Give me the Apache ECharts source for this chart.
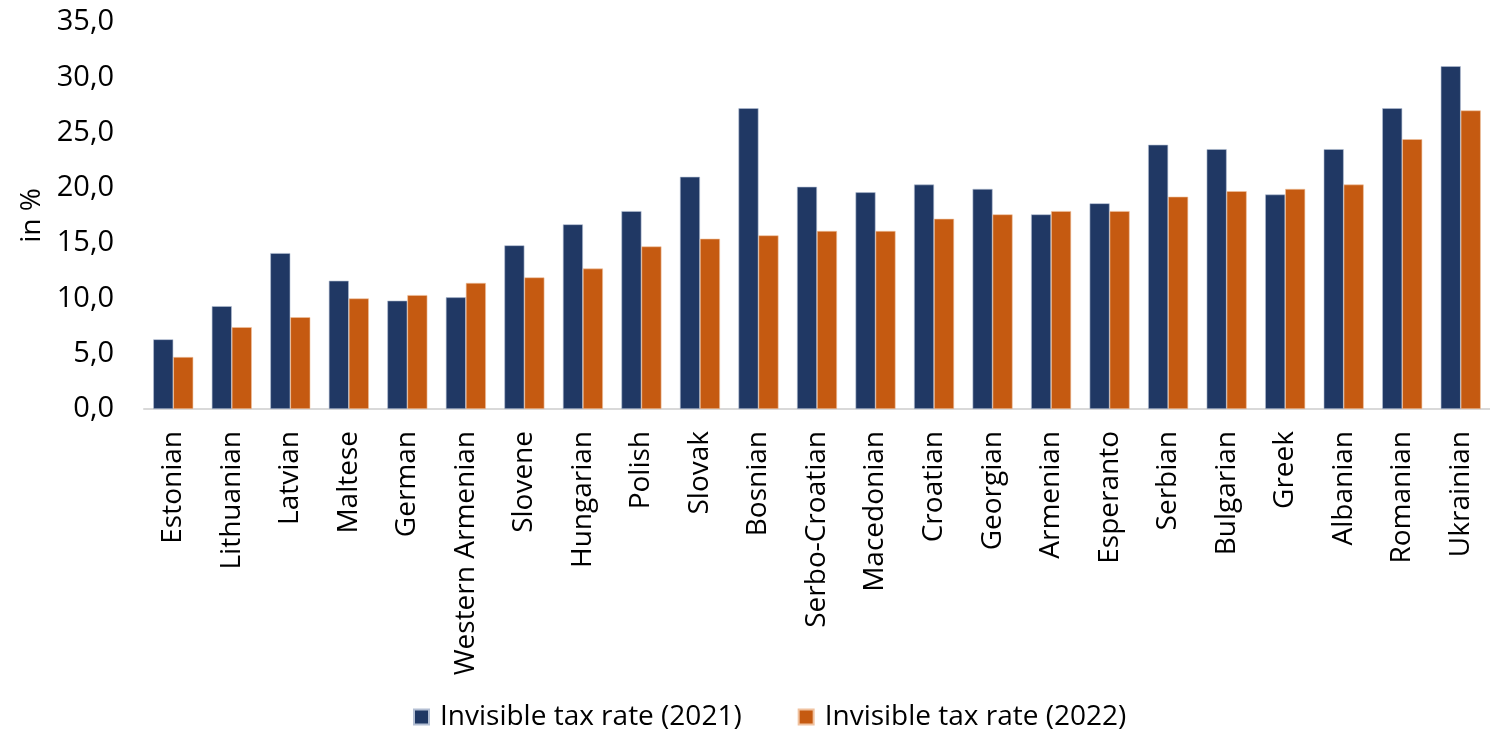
<!DOCTYPE html>
<html>
<head>
<meta charset="utf-8">
<script src="https://cdn.jsdelivr.net/npm/echarts@6/dist/echarts.min.js"></script>
<style>
  html, body { margin: 0; padding: 0; background: #fff; }
  #chart { width: 1490px; height: 736px; }
</style>
</head>
<body>
<div id="chart"></div>
<script>
// languages on the x axis
const languages = [
  'Estonian', 'Lithuanian', 'Latvian', 'Maltese', 'German', 'Western Armenian',
  'Slovene', 'Hungarian', 'Polish', 'Slovak', 'Bosnian', 'Serbo-Croatian',
  'Macedonian', 'Croatian', 'Georgian', 'Armenian', 'Esperanto', 'Serbian',
  'Bulgarian', 'Greek', 'Albanian', 'Romanian', 'Ukrainian'
]

// invisible tax rate, in %
const rate2021 = [6.3, 9.3, 14.1, 11.6, 9.8, 10.1, 14.8, 16.7, 17.9, 21.0, 27.2, 20.1,
  19.6, 20.3, 19.9, 17.6, 18.6, 23.9, 23.5, 19.4, 23.5, 27.2, 31.0]
const rate2022 = [4.7, 7.4, 8.3, 10.0, 10.3, 11.4, 11.9, 12.7, 14.7, 15.4, 15.7, 16.1,
  16.1, 17.2, 17.6, 17.9, 17.9, 19.2, 19.7, 19.9, 20.3, 24.4, 27.0]

const yTicks = { min: 0, max: 35, interval: 5 }

const FONT = 'Open Sans'
const chart = echarts.init(document.getElementById('chart'))

chart.setOption({
  animation: false,
  textStyle: { fontFamily: FONT, color: '#000' },
  grid: { left: 144, right: -10, top: 22, bottom: 327 },
  legend: {
    bottom: 0,
    left: 408,
    itemWidth: 15,
    itemHeight: 15,
    itemGap: 56,
    icon: 'rect',
    textStyle: { fontFamily: FONT, fontSize: 28, color: '#000', padding: [0, 0, 0, 6] },
    data: ['Invisible tax rate (2021)', 'Invisible tax rate (2022)']
  },
  xAxis: {
    type: 'category',
    data: languages,
    axisLine: { lineStyle: { color: '#d9d9d9', width: 2 } },
    axisTick: { show: false },
    axisLabel: {
      rotate: 90,
      interval: 0,
      margin: 22,
      fontSize: 28,
      fontFamily: FONT,
      color: '#000'
    }
  },
  yAxis: {
    type: 'value',
    min: yTicks.min,
    max: yTicks.max,
    interval: yTicks.interval,
    name: 'in %',
    nameLocation: 'middle',
    nameRotate: 90,
    nameGap: 98,
    nameTextStyle: { fontSize: 28, fontFamily: FONT, color: '#000' },
    axisLine: { show: false },
    axisTick: { show: false },
    splitLine: { show: false },
    axisLabel: {
      fontSize: 29,
      margin: 30,
      fontFamily: FONT,
      color: '#000',
      formatter: v => v.toFixed(1).replace('.', ',')
    }
  },
  series: [
    {
      name: 'Invisible tax rate (2021)',
      type: 'bar',
      data: rate2021,
      barWidth: 20,
      barGap: '0%',
      itemStyle: { color: '#203864', borderColor: '#b4bfd3', borderWidth: 0.6 }
    },
    {
      name: 'Invisible tax rate (2022)',
      type: 'bar',
      data: rate2022,
      barWidth: 20,
      barGap: '0%',
      itemStyle: { color: '#c55a11', borderColor: '#f0c2a0', borderWidth: 0.6 }
    }
  ]
})
</script>
</body>
</html>
